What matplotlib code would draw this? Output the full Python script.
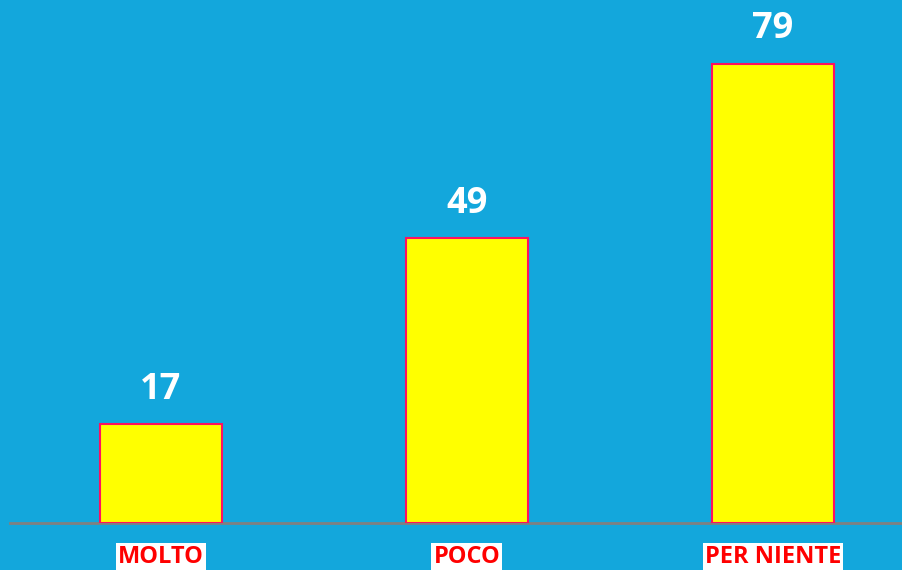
import matplotlib
matplotlib.use("Agg")
import matplotlib.pyplot as plt
import matplotlib.transforms as mtransforms

categories = ["MOLTO", "POCO", "PER NIENTE"]
values = [17, 49, 79]

bg = "#13A7DC"

fig = plt.figure(figsize=(9.03, 5.70), dpi=100)
fig.patch.set_facecolor(bg)
ax = fig.add_axes([10 / 903, 47 / 570, 893 / 903, 523 / 570])
ax.set_facecolor(bg)

x = list(range(len(categories)))
ax.bar(x, values, width=0.4, color="#FFFF00", edgecolor="#FF1060", linewidth=1.5, zorder=3)

ax.set_xlim(-0.4935, 2.425)
ax.set_ylim(0, 90)

for side in ["top", "right", "left"]:
    ax.spines[side].set_visible(False)
ax.spines["bottom"].set_color("#808080")
ax.spines["bottom"].set_linewidth(2)
ax.set_xticks([])
ax.set_yticks([])

# value labels
for xi, v in zip(x, values):
    ax.annotate(str(v), (xi, v), xytext=(0, 12), textcoords="offset points",
                ha="center", va="bottom", color="white", fontsize=26,
                fontweight="bold", family="Open Sans")

# category labels with white boxes
trans = mtransforms.blended_transform_factory(ax.transData, fig.transFigure)
for xi, c in zip(x, categories):
    ax.text(xi, 1 / 570, c, transform=trans, ha="center", va="bottom",
            color="#FF0000", fontsize=17, fontweight="bold", family="Open Sans",
            bbox=dict(facecolor="white", edgecolor="none", pad=1.5),
            clip_on=False)

fig.savefig("out.png", dpi=100, facecolor=bg)
